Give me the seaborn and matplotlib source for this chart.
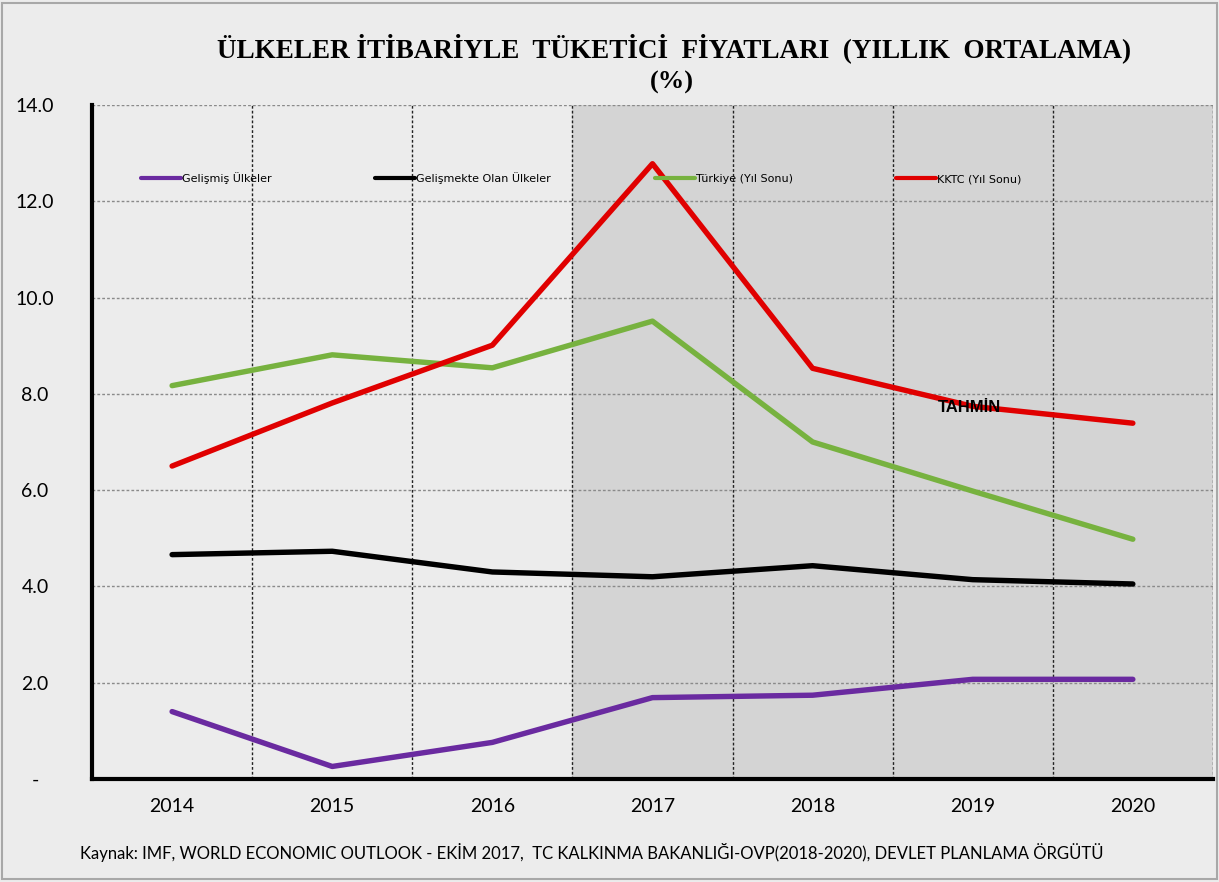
import matplotlib
matplotlib.use("Agg")
import matplotlib.pyplot as plt
import matplotlib.ticker as mticker
from matplotlib.patches import Rectangle
import seaborn as sns
import pandas as pd

# data
years = [2014, 2015, 2016, 2017, 2018, 2019, 2020]
gelismis = [1.40, 0.26, 0.76, 1.69, 1.74, 2.07, 2.07]
gelismekte = [4.66, 4.73, 4.30, 4.20, 4.43, 4.14, 4.05]
turkiye = [8.17, 8.81, 8.54, 9.51, 7.00, 5.98, 4.98]
kktc = [6.50, 7.81, 9.01, 12.78, 8.53, 7.74, 7.39]

series_names = ["Gelişmiş Ülkeler", "Gelişmekte Olan Ülkeler", "Türkiye (Yıl Sonu)", "KKTC (Yıl Sonu)"]
colors = ["#6a2aa0", "#000000", "#77b23f", "#e00000"]

df = pd.concat([
    pd.DataFrame({"yil": years, "deger": vals, "seri": name})
    for name, vals in zip(series_names, [gelismis, gelismekte, turkiye, kktc])
])

sns.set_style("white")
plt.rcParams["font.family"] = ["Lato", "DejaVu Sans"]
plt.rcParams["text.color"] = "black"
plt.rcParams["xtick.color"] = "black"
plt.rcParams["ytick.color"] = "black"

bg = "#ececec"
fig = plt.figure(figsize=(12.19, 8.82), dpi=100, facecolor=bg)
ax = fig.add_axes([0.0755, 0.1168, 0.9195, 0.7642])
ax.set_facecolor(bg)

# forecast shading
ax.axvspan(2016.5, 2020.5, color="#d4d4d4", zorder=0, lw=0)

sns.lineplot(data=df, x="yil", y="deger", hue="seri", palette=colors,
             linewidth=3.9, ax=ax, zorder=3, legend=True)

ax.set_xlim(2013.5, 2020.5)
ax.set_ylim(0, 14)
ax.set_xticks(years)
ax.set_xticks([y + 0.5 for y in years], minor=True)
ax.set_yticks(range(0, 15, 2))
ax.yaxis.set_major_formatter(mticker.FuncFormatter(lambda v, p: "-" if v == 0 else f"{v:.1f}"))

# grid
ax.grid(False)
for v in range(2, 15, 2):
    ax.axhline(v, color="#8a8a8a", lw=1, ls=(0, (2, 1.5)), zorder=1)
for b in [y + 0.5 for y in years]:
    ax.axvline(b, color="#222222", lw=1, ls=(0, (2, 1.5)), zorder=1)

for s in ["top", "right"]:
    ax.spines[s].set_visible(False)
ax.spines["left"].set_linewidth(3)
ax.spines["bottom"].set_linewidth(3)
ax.spines["left"].set_color("black")
ax.spines["bottom"].set_color("black")
ax.spines["left"].set_zorder(5)
ax.spines["bottom"].set_zorder(5)

ax.tick_params(axis="x", which="major", length=0, pad=14, labelsize=14)
ax.tick_params(axis="x", which="minor", length=7, width=2.5, direction="out", color="black")
ax.tick_params(axis="y", which="major", length=6, width=2.5, direction="in", pad=41, labelsize=14)
for lab in ax.get_yticklabels():
    lab.set_horizontalalignment("center")
ax.set_xlabel("")
ax.set_ylabel("")

leg = ax.legend(loc="upper left", bbox_to_anchor=(0.035, 0.915), ncol=4, frameon=False,
                handlelength=3.6, handletextpad=0.1, columnspacing=9.3,
                prop={"family": ["Liberation Sans Narrow", "DejaVu Sans"], "size": 8})
for line in leg.get_lines():
    line.set_linewidth(3)

ax.text(2018.98, 7.72, "TAHMİN", ha="center", va="center", fontsize=12, fontweight="bold",
        family=["Liberation Sans", "DejaVu Sans"], zorder=6)

fig.text(0.553, 0.945, "ÜLKELER İTİBARİYLE  TÜKETİCİ  FİYATLARI  (YILLIK  ORTALAMA)",
         ha="center", va="center", fontsize=19.5, fontweight="bold",
         family=["Liberation Serif", "DejaVu Serif"])
fig.text(0.551, 0.907, "(%)", ha="center", va="center", fontsize=19, fontweight="bold",
         family=["Liberation Serif", "DejaVu Serif"])

fig.text(0.066, 0.033, "Kaynak: IMF, WORLD ECONOMIC OUTLOOK - EKİM 2017,  TC KALKINMA BAKANLIĞI-OVP(2018-2020), DEVLET PLANLAMA ÖRGÜTÜ",
         ha="left", va="center", fontsize=12)

fig.add_artist(Rectangle((0.002, 0.003), 0.996, 0.994, transform=fig.transFigure,
                         fill=False, edgecolor="#a8a8a8", lw=1.5))

fig.savefig("out.png", dpi=100, facecolor=bg)
